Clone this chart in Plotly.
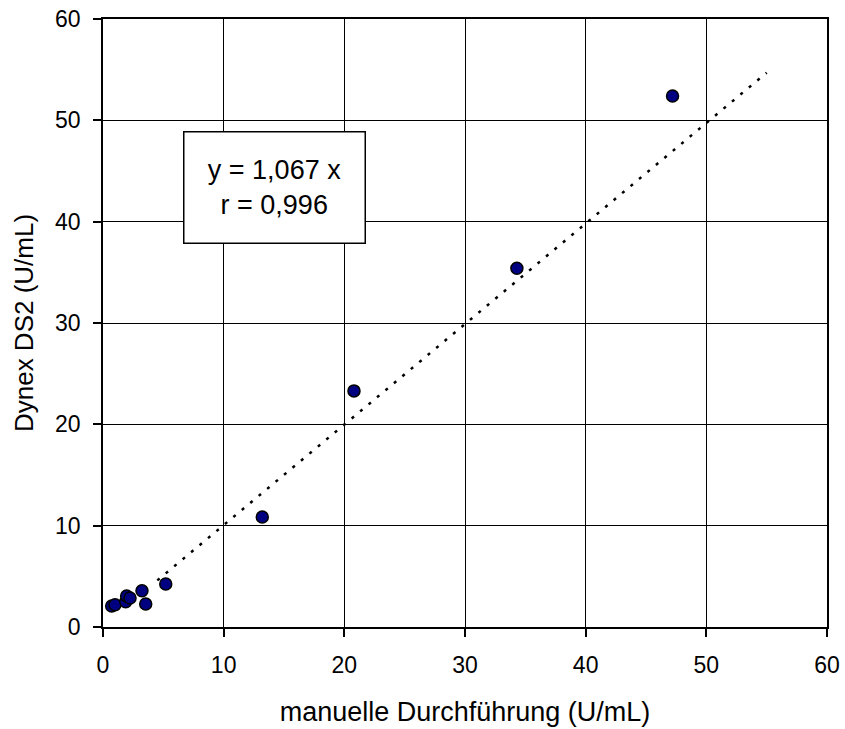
import plotly.graph_objects as go

x_manual = [0.72, 1.0, 1.88, 1.96, 2.24, 3.23, 3.54, 5.2, 13.2, 20.8, 34.3, 47.2]
y_dynex = [2.07, 2.2, 2.5, 3.06, 2.86, 3.58, 2.27, 4.24, 10.85, 23.3, 35.4, 52.4]
trend_x = [4.5, 55.0]
trend_y = [4.6, 54.7]
x_ticks = [0, 10, 20, 30, 40, 50, 60]
y_ticks = [0, 10, 20, 30, 40, 50, 60]

FONT = "Liberation Sans, Arial, sans-serif"

fig = go.Figure()
fig.add_trace(go.Scatter(x=trend_x, y=trend_y, mode="lines",
                         line=dict(color="black", width=2.5, dash="3px,8px"),
                         hoverinfo="skip", showlegend=False))
fig.add_trace(go.Scatter(x=x_manual, y=y_dynex, mode="markers",
                         marker=dict(color="#000080", size=12,
                                     line=dict(color="black", width=1.5)),
                         showlegend=False))

axis_common = dict(showline=True, linecolor="black", linewidth=1.5, mirror=True,
                   showgrid=True, gridcolor="black", gridwidth=1,
                   ticks="outside", ticklen=8, tickcolor="black", tickwidth=1.5,
                   zeroline=False, automargin=False,
                   tickfont=dict(family=FONT, size=23, color="black"))

fig.update_xaxes(range=[0, 60], tickvals=x_ticks, ticklabelstandoff=9,
                 title=dict(text="manuelle Durchführung (U/mL)",
                            font=dict(family=FONT, size=27, color="black"),
                            standoff=25),
                 **axis_common)
fig.update_yaxes(range=[0, 60], tickvals=y_ticks, ticklabelstandoff=8,
                 title=dict(text="Dynex DS2 (U/mL)",
                            font=dict(family=FONT, size=26, color="black"),
                            standoff=14),
                 **axis_common)

fig.add_annotation(x=14.2, y=43.4, xref="x", yref="y",
                   text="y = 1,067 x<br>r = 0,996", showarrow=False,
                   font=dict(family=FONT, size=27, color="black"),
                   align="center", bgcolor="white", bordercolor="black", borderwidth=1.5,
                   width=178, height=108)

fig.update_layout(width=845, height=729,
                  margin=dict(l=103, r=18, t=19, b=102, autoexpand=False),
                  plot_bgcolor="white", paper_bgcolor="white")

fig.write_html("out.html", config={"displayModeBar": False},
               post_script="document.body.style.margin='0';document.body.style.overflow='hidden';")
